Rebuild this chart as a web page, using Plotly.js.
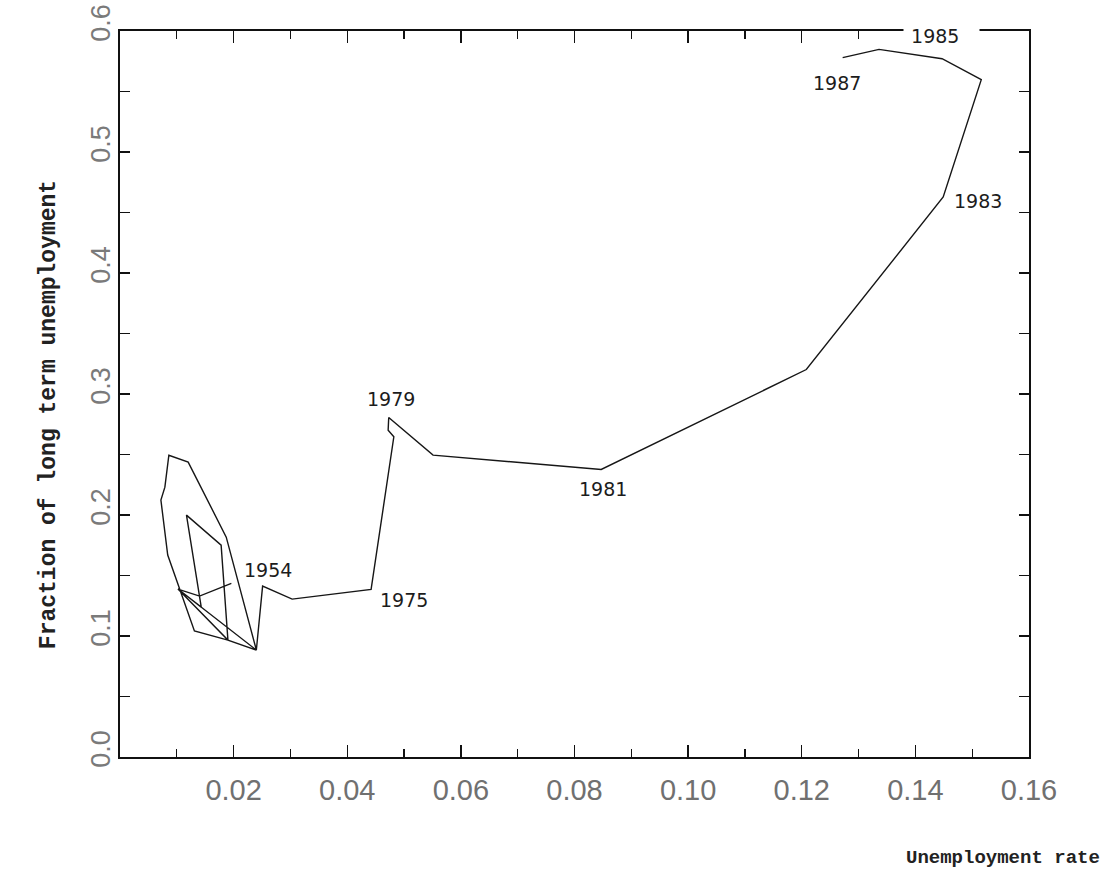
<!DOCTYPE html>
<html>
<head>
<meta charset="utf-8">
<script src="https://cdn.plot.ly/plotly-3.0.1.min.js"></script>
<style>
  html, body { margin: 0; padding: 0; background: #fff; }
  #chart { width: 1111px; height: 869px; }
</style>
</head>
<body>
<div id="chart"></div>
<script>
// Unemployment rate vs. fraction of the unemployed who are long-term unemployed, traced year by year
const unemploymentRate = [
  0.0196, 0.0140, 0.0102, 0.0190, 0.0240, 0.0187, 0.0120, 0.0086, 0.0079, 0.0072,
  0.0084, 0.0131, 0.0190, 0.0178, 0.0117, 0.0143, 0.0102, 0.0240, 0.0251, 0.0303,
  0.0442, 0.0482, 0.0472, 0.0473, 0.0551, 0.0847, 0.1208, 0.1434, 0.1449, 0.1516,
  0.1447, 0.1336, 0.1272
];
const longTermFraction = [
  0.1435, 0.1330, 0.1388, 0.0966, 0.0884, 0.1817, 0.2437, 0.2494, 0.2230, 0.2123,
  0.1669, 0.1041, 0.0966, 0.1751, 0.1999, 0.1239, 0.1388, 0.0884, 0.1412, 0.1305,
  0.1385, 0.2646, 0.2701, 0.2806, 0.2495, 0.2376, 0.3202, 0.4546, 0.4628, 0.5598,
  0.5771, 0.5848, 0.5780
];

// Year labels and the point of the path each one sits next to
const labelYears = ['1954', '1975', '1979', '1981', '1983', '1985', '1987'];
const labelPointIndex = [0, 20, 23, 25, 28, 30, 32];
// pixel offsets of each label from its point
const labelShift = [[37, 13], [33, -11], [2, 18], [2, -19], [35, -4], [-1, 23], [-6, -25]];

const nb = '\u00a0';
const yearAnnotations = labelYears.map((yr, k) => {
  const i = labelPointIndex[k];
  const isTopLabel = yr === '1985';
  return {
    x: unemploymentRate[i], y: longTermFraction[i], xref: 'x', yref: 'y',
    text: isTopLabel ? nb + yr + nb + nb + nb : yr,
    showarrow: false, xanchor: 'center', yanchor: 'middle',
    xshift: labelShift[k][0], yshift: labelShift[k][1],
    bgcolor: isTopLabel ? '#ffffff' : 'rgba(0,0,0,0)',
    borderpad: 1,
    font: { family: 'DejaVu Sans, Verdana, sans-serif', size: 19, color: '#1c1c1c' }
  };
});

const titleFont = { family: 'Liberation Mono, Courier New, monospace', color: '#222', weight: 'bold' };

const trace = {
  x: unemploymentRate, y: longTermFraction,
  type: 'scatter', mode: 'lines',
  line: { color: '#161616', width: 1.4 },
  hoverinfo: 'x+y'
};

const axisCommon = {
  showline: true, linecolor: '#111', linewidth: 2, mirror: 'allticks',
  ticks: 'inside', tickcolor: '#111', tickwidth: 1.3,
  showgrid: false, zeroline: false, fixedrange: true
};

const layout = {
  width: 1111, height: 869,
  margin: { l: 120, r: 82, t: 31, b: 112 },
  paper_bgcolor: '#ffffff', plot_bgcolor: '#ffffff',
  showlegend: false,
  xaxis: Object.assign({}, axisCommon, {
    range: [0, 0.16], tickmode: 'array',
    tickvals: [0.02, 0.04, 0.06, 0.08, 0.10, 0.12, 0.14, 0.16],
    ticktext: ['0.02', '0.04', '0.06', '0.08', '0.10', '0.12', '0.14', '0.16'],
    ticklen: 12, ticklabelstandoff: 6,
    tickfont: { family: 'Liberation Sans, Arial, sans-serif', size: 29, color: '#707070' },
    minor: { dtick: 0.01, ticks: 'inside', ticklen: 8, tickcolor: '#111', tickwidth: 1.2 }
  }),
  yaxis: Object.assign({}, axisCommon, {
    range: [0, 0.6], dtick: 0.1, tickformat: '.1f', tickangle: -90,
    ticklen: 10, ticklabelstandoff: -3, ticklabelshift: -4,
    tickfont: { family: 'Liberation Sans, Arial, sans-serif', size: 27, color: '#7a7a7a' },
    minor: { dtick: 0.05, ticks: 'inside', ticklen: 10, tickcolor: '#111', tickwidth: 1.2 }
  }),
  annotations: yearAnnotations.concat([
    {
      text: 'Fraction of long term unemployment', xref: 'paper', yref: 'paper',
      x: -0.078, y: 0.471, xanchor: 'center', yanchor: 'middle', textangle: -90,
      showarrow: false, font: Object.assign({ size: 23 }, titleFont)
    },
    {
      text: 'Unemployment rate', xref: 'paper', yref: 'paper',
      x: 0.971, y: -0.139, xanchor: 'center', yanchor: 'middle',
      showarrow: false, font: Object.assign({ size: 19 }, titleFont)
    }
  ])
};

Plotly.newPlot('chart', [trace], layout, { staticPlot: true, displayModeBar: false });
</script>
</body>
</html>
